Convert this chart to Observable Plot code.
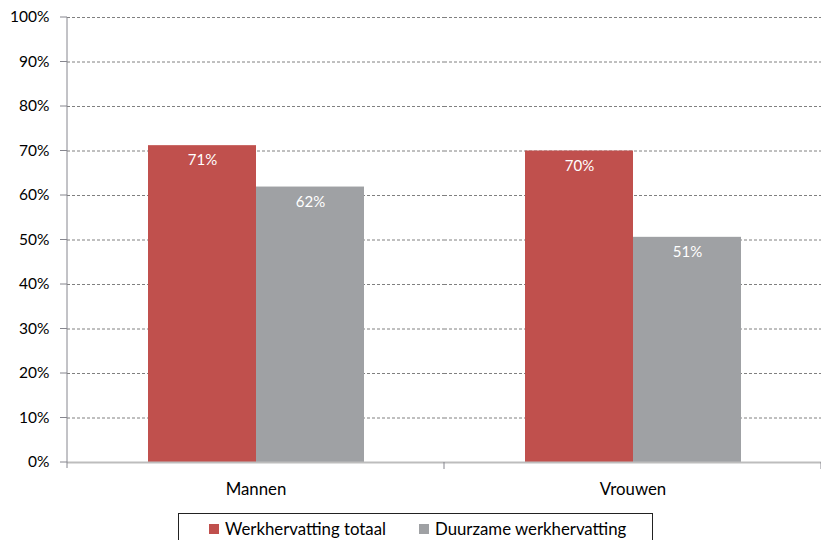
<!DOCTYPE html>
<html>
<head>
<meta charset="utf-8">
<script src="https://cdn.jsdelivr.net/npm/d3@7"></script>
<script src="https://cdn.jsdelivr.net/npm/@observablehq/plot@0.6"></script>
<style>
  body { margin: 0; background: #fff; font-family: Lato, "Open Sans", sans-serif; }
  #chart svg { display: block; }
  #legend {
    position: absolute; left: 178px; top: 513px; width: 475px; height: 40px;
    border: 1px solid #222; box-sizing: border-box;
    font-family: Lato, sans-serif; font-size: 16.8px; color: #000;
  }
  .item { position: absolute; top: 4px; display: flex; align-items: center; white-space: nowrap; }
  .sw { width: 10px; height: 10px; margin-right: 6px; display: inline-block; }
</style>
</head>
<body>
<div id="chart"></div>
<div id="legend"></div>
<script>
const categories = ["Mannen", "Vrouwen"];
const series = ["Werkhervatting totaal", "Duurzame werkhervatting"];
const totaal = [71.2, 70.0];
const duurzaam = [61.9, 50.6];
const colors = ["#C0504D", "#9FA1A4"];
const yTicks = [0, 10, 20, 30, 40, 50, 60, 70, 80, 90, 100];

const data = [];
categories.forEach((c, i) => {
  data.push({cat: c, series: series[0], value: totaal[i]});
  data.push({cat: c, series: series[1], value: duurzaam[i]});
});

const plot = Plot.plot({
  width: 821,
  height: 508,
  marginTop: 17,
  marginLeft: 67,
  marginRight: 0,
  marginBottom: 46,
  style: {fontFamily: "Lato, sans-serif", fontSize: "15.5px", color: "#000", background: "#fff"},
  fx: {domain: categories, padding: 0, label: null, tickSize: 0, tickPadding: 21},
  x: {domain: series, axis: null, paddingInner: 0, paddingOuter: 0.745},
  y: {domain: [0, 100], ticks: yTicks, tickFormat: d => d + "%", label: null, tickSize: 0, tickPadding: 18},
  color: {domain: series, range: colors},
  marks: [
    Plot.gridY(yTicks.filter(d => d > 0), {stroke: "#808080", strokeOpacity: 1, strokeDasharray: "3,2"}),
    Plot.barY(data, {fx: "cat", x: "series", y: "value", fill: "series"}),
    Plot.text(data, {fx: "cat", x: "series", y: "value", text: d => Math.round(d.value) + "%", dy: 15, fill: "#fff", fontSize: 15}),
    Plot.ruleY([0], {stroke: "#BDBDBD", strokeWidth: 2})
  ]
});
document.getElementById("chart").appendChild(plot);

// larger category labels
d3.select(plot).selectAll("[aria-label='fx-axis tick label'] text, g[aria-label^='fx-axis'] text").attr("font-size", 16.8);

// y axis line, tick stubs and category separators using the plot's scales
const svg = d3.select(plot);
const fx = plot.scale("fx");
const y = plot.scale("y");
const y0 = y.apply(0);
const xLeft = fx.apply(categories[0]);
const xs = categories.map(c => fx.apply(c)).concat([fx.apply(categories[categories.length - 1]) + fx.bandwidth]);
const g = svg.append("g");
g.append("line").attr("x1", xLeft).attr("x2", xLeft)
  .attr("y1", y.apply(100)).attr("y2", y0 + 6).attr("stroke", "#86868E").attr("stroke-width", 1);
yTicks.forEach(t => {
  g.append("line").attr("x1", xLeft - 7).attr("x2", xLeft)
    .attr("y1", y.apply(t)).attr("y2", y.apply(t)).attr("stroke", "#86868E");
});
xs.slice(1).forEach(x => {
  g.append("line").attr("x1", x).attr("x2", x).attr("y1", y0).attr("y2", y0 + 7)
    .attr("stroke", "#86868E").attr("stroke-width", 1);
});

// legend
const legend = document.getElementById("legend");
const lefts = [30, 240];
series.forEach((s, i) => {
  const item = document.createElement("div");
  item.className = "item";
  item.style.left = lefts[i] + "px";
  item.innerHTML = `<span class="sw" style="background:${colors[i]}"></span>${s}`;
  legend.appendChild(item);
});
</script>
</body>
</html>
